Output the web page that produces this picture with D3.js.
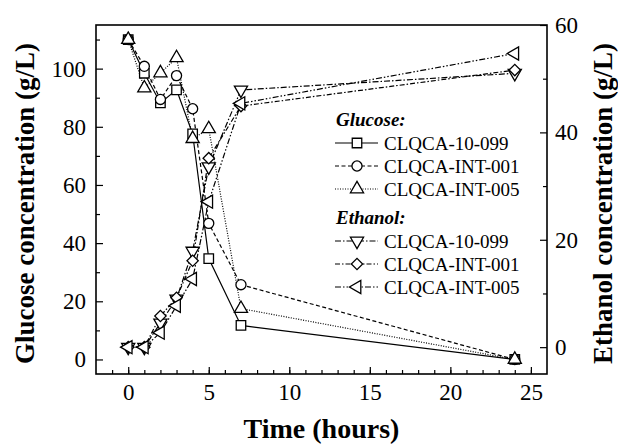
<!DOCTYPE html>
<html>
<head>
<meta charset="utf-8">
<script src="https://cdn.jsdelivr.net/npm/d3@7"></script>
<style>
  body { margin: 0; background: #fff; }
  svg text { font-family: "Liberation Serif", "Times New Roman", "DejaVu Serif", serif; fill: #000; }
</style>
</head>
<body>
<div id="chart"></div>
<script>
// time points (hours)
const hours = [0, 1, 2, 3, 4, 5, 7, 24];

// glucose, g/L (left axis)
const glucose099 = [110, 98.4, 88.2, 92.7, 77.6, 34.7, 11.7, 0];
const glucoseInt001 = [110, 100.8, 89.4, 97.6, 86.2, 46.8, 25.7, 0];
const glucoseInt005 = [110, 93.3, 98.5, 103.7, 75.9, 79.3, 17.5, 0];

// ethanol, g/L (right axis)
const ethanol099 = [0, 0, 4.5, 9, 17.9, 33.6, 47.9, 51.0];
const ethanolInt001 = [0, 0, 5.8, 9.2, 16.1, 35.2, 44.9, 51.6];
const ethanolInt005 = [0, 0, 2.7, 7.7, 12.7, 27.1, 45.4, 54.7];

const strains = ['CLQCA-10-099', 'CLQCA-INT-001', 'CLQCA-INT-005'];
const xTicks = [0, 5, 10, 15, 20, 25];
const glucoseTicks = [0, 20, 40, 60, 80, 100];
const ethanolTicks = [0, 20, 40, 60];

const serif = '"Liberation Serif", "Times New Roman", serif';
const width = 618;
const height = 446;
const margin = { top: 25, right: 71, bottom: 72, left: 96 };

const svg = d3.select('#chart')
  .append('svg')
  .attr('width', width)
  .attr('height', height);

const x = d3.scaleLinear()
  .domain([-2, 26])
  .range([margin.left, width - margin.right]);

const yG = d3.scaleLinear()
  .domain([-5, 115])
  .range([height - margin.bottom, margin.top]);

const yE = d3.scaleLinear()
  .domain([-5, 60])
  .range([height - margin.bottom, margin.top]);

const plotBottom = height - margin.bottom;
const plotRight = width - margin.right;

// minor ticks first, then major ones with labels
svg.append('g')
  .attr('transform', `translate(0, ${plotBottom})`)
  .call(d3.axisBottom(x).tickValues(d3.range(-1, 26, 1)).tickSize(-4).tickFormat(''));
svg.append('g')
  .attr('transform', `translate(0, ${plotBottom})`)
  .call(d3.axisBottom(x).tickValues(xTicks).tickSizeInner(-7).tickSizeOuter(0).tickPadding(10));

svg.append('g')
  .attr('transform', `translate(${margin.left}, 0)`)
  .call(d3.axisLeft(yG).tickValues(d3.range(10, 111, 20)).tickSize(-4).tickFormat(''));
svg.append('g')
  .attr('transform', `translate(${margin.left}, 0)`)
  .call(d3.axisLeft(yG).tickValues(glucoseTicks).tickSizeInner(-7).tickSizeOuter(0).tickPadding(10));

svg.append('g')
  .attr('transform', `translate(${plotRight}, 0)`)
  .call(d3.axisRight(yE).tickValues([10, 30, 50]).tickSize(-4).tickFormat(''));
svg.append('g')
  .attr('transform', `translate(${plotRight}, 0)`)
  .call(d3.axisRight(yE).tickValues(ethanolTicks).tickSizeInner(-7).tickSizeOuter(0).tickPadding(8));

svg.selectAll('.domain').remove();
svg.selectAll('g').attr('font-family', serif);
svg.selectAll('.tick line').attr('stroke', '#000').attr('stroke-width', 1.2);
svg.selectAll('.tick text')
  .attr('font-family', serif)
  .style('font-family', serif)
  .style('font-size', '23px');

svg.append('rect')
  .attr('x', margin.left)
  .attr('y', margin.top)
  .attr('width', plotRight - margin.left)
  .attr('height', plotBottom - margin.top)
  .attr('fill', 'none')
  .attr('stroke', '#000')
  .attr('stroke-width', 1.6);

// axis titles
svg.append('text')
  .attr('x', (margin.left + plotRight) / 2)
  .attr('y', 438)
  .attr('text-anchor', 'middle')
  .style('font-family', serif)
  .style('font-size', '28px')
  .style('font-weight', 'bold')
  .text('Time (hours)');

svg.append('text')
  .attr('transform', `translate(34, ${(margin.top + plotBottom) / 2 + 4}) rotate(-90)`)
  .attr('text-anchor', 'middle')
  .style('font-family', serif)
  .style('font-size', '27px')
  .style('font-weight', 'bold')
  .text('Glucose concentration (g/L)');

svg.append('text')
  .attr('transform', `translate(612, ${(margin.top + plotBottom) / 2 + 4}) rotate(-90)`)
  .attr('text-anchor', 'middle')
  .style('font-family', serif)
  .style('font-size', '27px')
  .style('font-weight', 'bold')
  .text('Ethanol concentration (g/L)');

// series definitions
const series = [
  { values: glucose099, y: yG, dash: null, symbol: d3.symbolSquare, size: 90, rotate: 0 },
  { values: glucoseInt001, y: yG, dash: '4,2.5', symbol: d3.symbolCircle, size: 80, rotate: 0 },
  { values: glucoseInt005, y: yG, dash: '1,1.5', symbol: d3.symbolTriangle, size: 75, rotate: 0 },
  { values: ethanol099, y: yE, dash: '6,2,1.5,2', symbol: d3.symbolTriangle, size: 75, rotate: 180 },
  { values: ethanolInt001, y: yE, dash: '5,2,1.5,2', symbol: d3.symbolSquare, size: 64, rotate: 45 },
  { values: ethanolInt005, y: yE, dash: '6,2,1.5,2,1.5,2', symbol: d3.symbolTriangle, size: 75, rotate: -90 },
];

const lineGroup = svg.append('g');
series.forEach(s => {
  const line = d3.line()
    .x((d, i) => x(hours[i]))
    .y(d => s.y(d));
  lineGroup.append('path')
    .datum(s.values)
    .attr('d', line)
    .attr('fill', 'none')
    .attr('stroke', '#000')
    .attr('stroke-width', 1.2)
    .attr('stroke-dasharray', s.dash);
});

series.forEach(s => {
  svg.append('g')
    .selectAll('path')
    .data(s.values)
    .enter()
    .append('path')
    .attr('d', d3.symbol().type(s.symbol).size(s.size))
    .attr('transform', (d, i) => `translate(${x(hours[i])}, ${s.y(d)}) rotate(${s.rotate})`)
    .attr('fill', '#fff')
    .attr('stroke', '#000')
    .attr('stroke-width', 1.3);
});

// legend
const legend = svg.append('g');
const legendRows = [
  { head: 'Glucose:', y: 119, items: series.slice(0, 3) },
  { head: 'Ethanol:', y: 217, items: series.slice(3) },
];
legendRows.forEach(block => {
  legend.append('text')
    .attr('x', 336)
    .attr('y', block.y + 7)
    .style('font-family', serif)
    .style('font-size', '19px')
    .style('font-weight', 'bold')
    .style('font-style', 'italic')
    .text(block.head);
  block.items.forEach((s, i) => {
    const yy = block.y + 24 + i * 23;
    legend.append('line')
      .attr('x1', 335).attr('x2', 378)
      .attr('y1', yy).attr('y2', yy)
      .attr('stroke', '#000')
      .attr('stroke-width', 1.2)
      .attr('stroke-dasharray', s.dash);
    legend.append('path')
      .attr('d', d3.symbol().type(s.symbol).size(s.size))
      .attr('transform', `translate(357, ${yy}) rotate(${s.rotate})`)
      .attr('fill', '#fff')
      .attr('stroke', '#000')
      .attr('stroke-width', 1.3);
    legend.append('text')
      .attr('x', 384)
      .attr('y', yy + 6.5)
      .style('font-family', serif)
      .style('font-size', '19px')
      .text(strains[i]);
  });
});
</script>
</body>
</html>
